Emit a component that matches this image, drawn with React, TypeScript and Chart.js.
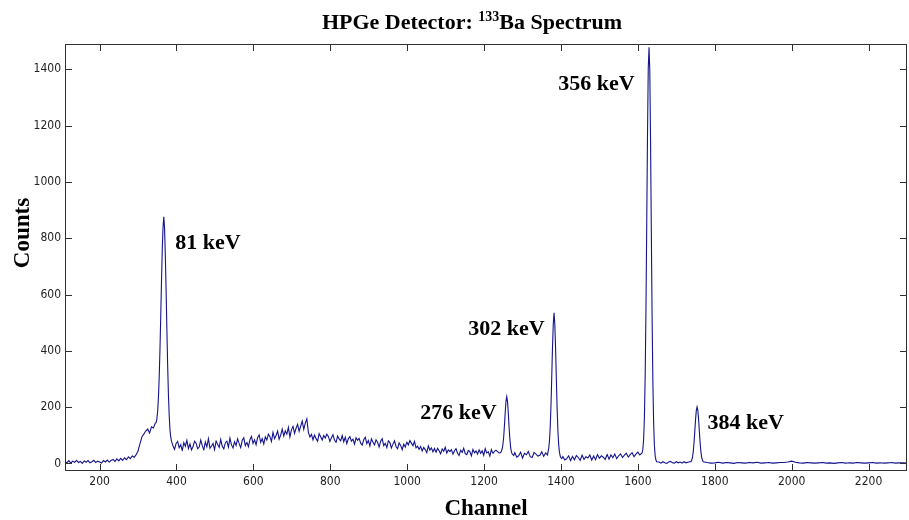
import React, { useEffect, useRef } from "react";
import { Chart, registerables } from "chart.js";

Chart.register(...registerables);

// ---------- text ----------
const titleMain = "HPGe Detector: ";
const titleSup = "133";
const titleEnd = "Ba Spectrum";
const xTitle = "Channel";
const yTitle = "Counts";

// ---------- axes ----------
const xTickValues = [200, 400, 600, 800, 1000, 1200, 1400, 1600, 1800, 2000, 2200];
const yTickValues = [0, 200, 400, 600, 800, 1000, 1200, 1400];
const xLimits = [110, 2300];
const yLimits = [-27, 1490];

// ---------- peak annotations ----------
const peakLabels = ["81 keV", "276 keV", "302 keV", "356 keV", "384 keV"];
const peakLabelChannels = [397, 1034, 1159, 1393, 1781];
const peakLabelCounts = [760, 157, 456, 1327, 121];

// ---------- spectrum (counts) ----------
// channels 110–345, every 5
const lowCounts = [
  7, 2, 10, 1, 8, 4, 11, 3, 7, 0,
  9, 4, 10, 2, 6, 11, 3, 8, 5, 1,
  10, 5, 12, 4, 11, 14, 7, 16, 9, 18,
  11, 20, 13, 23, 17, 27, 21, 31, 44, 70,
  94, 104, 115, 122, 108, 130, 126, 143,
];
// channels 347–391, every 2 (81 keV)
const peak81Counts = [
  145, 158, 185, 233, 305, 404, 520, 647, 760, 840, 876, 835,
  735, 612, 475, 349, 245, 171, 120, 93, 78, 70, 62,
];
// channels 395–1239, every 4
const midCounts = [
  50, 71, 78, 56, 66, 45, 74, 61, 82, 53,
  69, 48, 60, 79, 72, 52, 58, 83, 63, 47,
  76, 59, 88, 54, 62, 71, 49, 80, 67, 57,
  85, 61, 52, 74, 79, 58, 90, 66, 55, 77,
  64, 87, 70, 56, 82, 91, 63, 75, 59, 84,
  96, 71, 84, 66, 92, 101, 75, 88, 69, 94,
  83, 104, 95, 78, 110, 88, 99, 115, 86, 101,
  122, 97, 116, 104, 128, 94, 119, 133, 107, 125,
  139, 114, 132, 150, 121, 143, 158, 110, 94, 103,
  84, 101, 88, 79, 106, 95, 83, 99, 90, 104,
  96, 78, 91, 102, 83, 74, 97, 87, 80, 99,
  77, 93, 70, 88, 95, 79, 86, 68, 91, 82,
  89, 72, 65, 84, 93, 70, 81, 62, 87, 75,
  66, 84, 75, 58, 79, 88, 63, 71, 56, 80,
  74, 55, 69, 80, 60, 52, 73, 64, 49, 68,
  58, 76, 66, 81, 72, 63, 78, 55, 61, 50,
  60, 44, 57, 49, 38, 62, 47, 55, 41, 53,
  39, 54, 45, 34, 51, 43, 57, 37, 48, 42,
  49, 33, 45, 52, 36, 28, 47, 39, 54, 35,
  31, 46, 42, 27, 50, 38, 44, 33, 48, 36,
  45, 29, 52, 37, 41, 26, 49, 35, 43, 47,
  42, 37,
];
// channels 1243–1277, every 2 (276 keV)
const peak276Counts = [38, 44, 51, 67, 94, 135, 182, 221, 237, 220, 179, 130, 88, 58, 41, 34, 31, 28];
// channels 1280–1365, every 5
const gap1Counts = [38, 22, 27, 40, 19, 36, 31, 42, 24, 21, 39, 33, 26, 29, 41, 25, 37, 30];
// channels 1366–1402, every 2 (302 keV)
const peak302Counts = [39, 52, 79, 128, 205, 306, 414, 497, 535, 493, 408, 299, 196, 117, 67, 40, 26, 20, 17];
// channels 1405–1605, every 5
const gap2Counts = [
  24, 12, 17, 27, 10, 25, 13, 28, 21, 11,
  29, 14, 24, 19, 30, 12, 26, 13, 31, 18,
  27, 22, 14, 32, 15, 30, 20, 33, 17, 27,
  34, 21, 29, 36, 22, 31, 38, 24, 33, 40,
  30,
];
// channels 1611–1649, every 2 (356 keV)
const peak356Counts = [37, 51, 86, 164, 310, 540, 840, 1156, 1403, 1478, 1398, 1146, 826, 524, 292, 144, 64, 26, 12, 6];
// channels 1655–1735, every 5
const gap3Counts = [5, 1, 6, 2, 0, 5, 7, 2, 1, 6, 2, 5, 1, 6, 2, 4, 6];
// channels 1738–1770, every 2 (384 keV)
const peak384Counts = [6, 11, 21, 41, 72, 112, 155, 188, 201, 188, 155, 112, 72, 41, 21, 11, 6];
// channels 1780–2300, every 10
const highCounts = [
  3, 1, 2, 4, 1, 3, 2, 0, 3, 2, 1, 3, 2, 4, 1, 2, 3, 1, 2, 3,
  3, 5, 8, 4, 2,
  1, 3, 2, 1, 2, 3, 1, 2, 0, 2, 3, 1, 2, 1, 3, 2, 1, 2, 3, 1, 2, 1, 2, 3, 1, 2, 2, 1,
];

const segments = [
  { start: 110, step: 5, counts: lowCounts },
  { start: 347, step: 2, counts: peak81Counts },
  { start: 395, step: 4, counts: midCounts },
  { start: 1243, step: 2, counts: peak276Counts },
  { start: 1280, step: 5, counts: gap1Counts },
  { start: 1366, step: 2, counts: peak302Counts },
  { start: 1405, step: 5, counts: gap2Counts },
  { start: 1611, step: 2, counts: peak356Counts },
  { start: 1655, step: 5, counts: gap3Counts },
  { start: 1738, step: 2, counts: peak384Counts },
  { start: 1780, step: 10, counts: highCounts },
];

const SERIF = '"Liberation Serif", "Times New Roman", Times, serif';
const TICK_FONT = '"Liberation Sans Narrow", "DejaVu Sans Condensed", "Liberation Sans", Arial, sans-serif';

const overlayPlugin = {
  id: "overlay",
  afterDatasetsDraw(chart: any) {
    const { ctx, chartArea: a, scales } = chart;
    const xs = scales.x;
    const ys = scales.y;
    ctx.save();
    // axes box
    ctx.strokeStyle = "#303030";
    ctx.lineWidth = 1;
    ctx.strokeRect(a.left + 0.5, a.top + 0.5, a.right - a.left - 1, a.bottom - a.top - 1);
    // inward tick marks on all four sides
    const tl = 7;
    ctx.beginPath();
    xTickValues.forEach((v) => {
      const px = Math.round(xs.getPixelForValue(v)) + 0.5;
      ctx.moveTo(px, a.bottom);
      ctx.lineTo(px, a.bottom - tl);
      ctx.moveTo(px, a.top);
      ctx.lineTo(px, a.top + tl);
    });
    yTickValues.forEach((v) => {
      const py = Math.round(ys.getPixelForValue(v)) + 0.5;
      ctx.moveTo(a.left, py);
      ctx.lineTo(a.left + tl, py);
      ctx.moveTo(a.right, py);
      ctx.lineTo(a.right - tl, py);
    });
    ctx.stroke();

    // peak labels
    ctx.fillStyle = "#000";
    ctx.textAlign = "left";
    ctx.textBaseline = "alphabetic";
    ctx.font = `bold 22px ${SERIF}`;
    peakLabels.forEach((t, i) => {
      ctx.fillText(t, xs.getPixelForValue(peakLabelChannels[i]), ys.getPixelForValue(peakLabelCounts[i]));
    });

    // title with superscript
    const mainFont = `bold 22px ${SERIF}`;
    const supFont = `bold 14px ${SERIF}`;
    ctx.font = mainFont;
    const w1 = ctx.measureText(titleMain).width;
    const w3 = ctx.measureText(titleEnd).width;
    ctx.font = supFont;
    const w2 = ctx.measureText(titleSup).width;
    const total = w1 + w2 + w3;
    const cx = (a.left + a.right) / 2 - 14;
    let tx = cx - total / 2;
    const baseY = 29;
    ctx.font = mainFont;
    ctx.fillText(titleMain, tx, baseY);
    tx += w1;
    ctx.font = supFont;
    ctx.fillText(titleSup, tx, baseY - 8);
    tx += w2;
    ctx.font = mainFont;
    ctx.fillText(titleEnd, tx, baseY);

    // x axis title
    ctx.font = `bold 23px ${SERIF}`;
    ctx.textAlign = "center";
    ctx.fillText(xTitle, (a.left + a.right) / 2, 515);

    // y axis title
    ctx.save();
    ctx.translate(29, 233);
    ctx.rotate(-Math.PI / 2);
    ctx.font = `bold 23px ${SERIF}`;
    ctx.textAlign = "center";
    ctx.fillText(yTitle, 0, 0);
    ctx.restore();

    ctx.restore();
  },
};

export default function App() {
  const canvasRef = useRef<HTMLCanvasElement | null>(null);

  useEffect(() => {
    const canvas = canvasRef.current;
    if (!canvas) return;
    const points: { x: number; y: number }[] = [];
    segments.forEach((s) => {
      s.counts.forEach((c, i) => points.push({ x: s.start + i * s.step, y: c }));
    });

    const chart = new Chart(canvas, {
      type: "line",
      data: {
        datasets: [
          {
            label: "133Ba",
            data: points,
            borderColor: "#14148c",
            borderWidth: 1.1,
            pointRadius: 0,
            tension: 0.000001,
            fill: false,
          },
        ],
      },
      options: {
        animation: false,
        responsive: false,
        devicePixelRatio: 1,
        events: [],
        layout: { padding: { top: 44, right: 2, left: 0, bottom: 0 } },
        plugins: {
          legend: { display: false },
          title: { display: false },
          tooltip: { enabled: false },
        },
        scales: {
          x: {
            type: "linear",
            min: xLimits[0],
            max: xLimits[1],
            grid: { display: false, drawTicks: false },
            border: { display: false },
            afterBuildTicks: (s: any) => {
              s.ticks = xTickValues.map((v) => ({ value: v }));
            },
            afterFit: (s: any) => {
              s.height = 49;
            },
            ticks: {
              autoSkip: false,
              maxRotation: 0,
              minRotation: 0,
              padding: 4,
              color: "#222",
              font: { family: TICK_FONT, size: 12 },
              callback: (v: any) => String(v),
            },
          },
          y: {
            type: "linear",
            min: yLimits[0],
            max: yLimits[1],
            grid: { display: false, drawTicks: false },
            border: { display: false },
            afterBuildTicks: (s: any) => {
              s.ticks = yTickValues.map((v) => ({ value: v }));
            },
            afterFit: (s: any) => {
              s.width = 65;
            },
            ticks: {
              padding: 4,
              color: "#222",
              font: { family: TICK_FONT, size: 12 },
              callback: (v: any) => String(v),
            },
          },
        },
      },
      plugins: [overlayPlugin],
    });
    return () => chart.destroy();
  }, []);

  return (
    <div style={{ position: "absolute", left: 0, top: 0, width: 909, height: 520, background: "#fff" }}>
      <canvas ref={canvasRef} width={909} height={520} style={{ display: "block", width: 909, height: 520 }} />
    </div>
  );
}
